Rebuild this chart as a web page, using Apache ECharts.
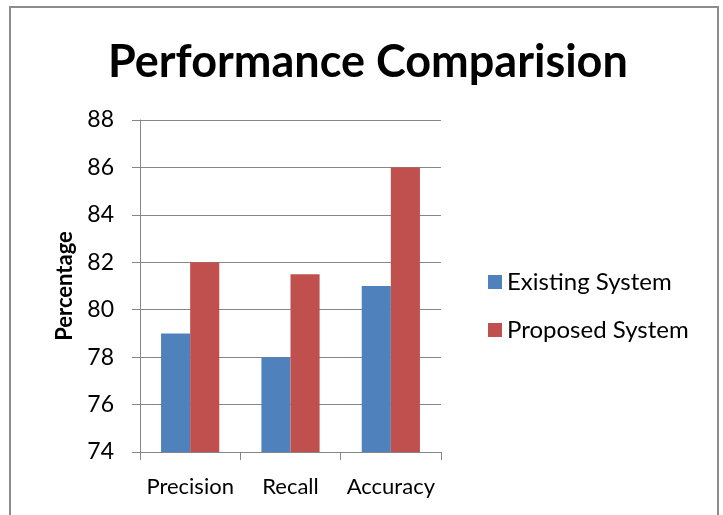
<!DOCTYPE html>
<html>
<head>
<meta charset="utf-8">
<script src="https://cdn.jsdelivr.net/npm/echarts@6/dist/echarts.min.js"></script>
<style>
  html, body { margin: 0; padding: 0; background: #fff; }
  #chart { width: 723px; height: 515px; }
</style>
</head>
<body>
<div id="chart"></div>
<script>
var categories = ['Precision', 'Recall', 'Accuracy'];
var existingSystem = [79, 78, 81];
var proposedSystem = [82, 81.5, 86];
var yTicks = { min: 74, max: 88, step: 2 };

var chart = echarts.init(document.getElementById('chart'));
var font = 'Lato, "Open Sans", sans-serif';

var option = {
    backgroundColor: '#ffffff',
    animation: false,
    color: ['#4F81BD', '#C0504D'],
    graphic: [{
        type: 'rect',
        shape: { x: 10, y: 7, width: 708, height: 530 },
        style: { fill: 'none', stroke: '#8c8c8c', lineWidth: 2 }
    }],
    title: {
        text: 'Performance Comparision',
        left: 103,
        top: 35,
        textStyle: {
            fontFamily: font,
            fontSize: 45,
            fontWeight: 'bold',
            color: '#000'
        }
    },
    legend: {
        orient: 'vertical',
        left: 483,
        top: 265,
        itemGap: 24,
        itemWidth: 14,
        itemHeight: 14,
        icon: 'rect',
        textStyle: {
            fontFamily: font,
            fontSize: 24,
            color: '#000'
        },
        data: ['Existing System', 'Proposed System']
    },
    grid: {
        left: 140,
        right: 282,
        top: 120,
        bottom: 63
    },
    xAxis: {
        type: 'category',
        data: categories,
        axisLine: { lineStyle: { color: '#868686' } },
        axisTick: { show: true, length: 8, lineStyle: { color: '#868686' } },
        axisLabel: {
            interval: 0,
            hideOverlap: false,
            fontFamily: font,
            fontSize: 22,
            color: '#000',
            margin: 24
        }
    },
    yAxis: {
        type: 'value',
        min: yTicks.min,
        max: yTicks.max,
        interval: yTicks.step,
        name: 'Percentage',
        nameLocation: 'middle',
        nameGap: 64,
        nameTextStyle: {
            fontFamily: font,
            fontSize: 22,
            fontWeight: 'bold',
            color: '#000'
        },
        axisLine: { show: true, lineStyle: { color: '#868686' } },
        axisTick: { show: true, length: 8, lineStyle: { color: '#868686' } },
        splitLine: { show: true, lineStyle: { color: '#868686' } },
        axisLabel: {
            fontFamily: font,
            fontSize: 23,
            color: '#000',
            margin: 26
        }
    },
    series: [{
        name: 'Existing System',
        type: 'bar',
        data: existingSystem,
        barGap: '0%',
        barCategoryGap: '42%'
    }, {
        name: 'Proposed System',
        type: 'bar',
        data: proposedSystem,
        barGap: '0%',
        barCategoryGap: '42%'
    }]
};

chart.setOption(option);
</script>
</body>
</html>
